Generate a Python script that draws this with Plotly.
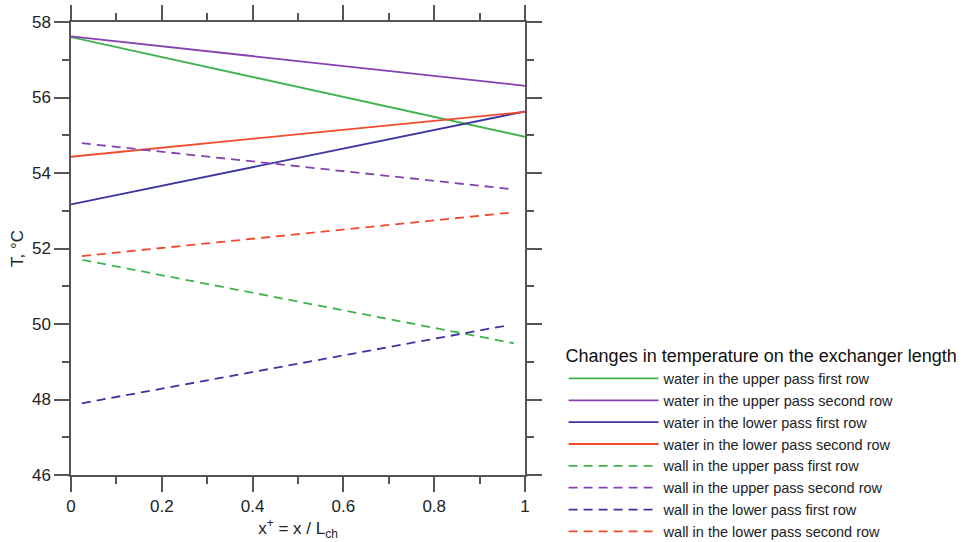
import plotly.graph_objects as go

# Data
names = [
    "water in the upper pass first row",
    "water in the upper pass second row",
    "water in the lower pass first row",
    "water in the lower pass second row",
    "wall in the upper pass first row",
    "wall in the upper pass second row",
    "wall in the lower pass first row",
    "wall in the lower pass second row",
]
colors = ["#3fb44e", "#8640b0", "#3b35a0", "#f24a2e",
          "#3fb44e", "#8640b0", "#3b35a0", "#f24a2e"]
dashes = ["solid"] * 4 + ["9px,6px"] * 4

x_water = [0.0, 1.0]
x_wall_upper1 = [0.025, 0.975]
x_wall_upper2 = [0.024, 0.965]
x_wall_lower1 = [0.024, 0.955]
x_wall_lower2 = [0.024, 0.968]

y_water_upper1 = [57.60, 54.96]
y_water_upper2 = [57.62, 56.31]
y_water_lower1 = [53.17, 55.63]
y_water_lower2 = [54.43, 55.62]
y_wall_upper1 = [51.70, 49.49]
y_wall_upper2 = [54.79, 53.58]
y_wall_lower1 = [47.90, 49.95]
y_wall_lower2 = [51.80, 52.95]

xs = [x_water, x_water, x_water, x_water,
      x_wall_upper1, x_wall_upper2, x_wall_lower1, x_wall_lower2]
ys = [y_water_upper1, y_water_upper2, y_water_lower1, y_water_lower2,
      y_wall_upper1, y_wall_upper2, y_wall_lower1, y_wall_lower2]

x_ticks = [0, 0.2, 0.4, 0.6, 0.8, 1]
x_ticklabels = ["0", "0.2", "0.4", "0.6", "0.8", "1"]
y_ticks = [46, 48, 50, 52, 54, 56, 58]

FONT = "Liberation Sans, Arial, sans-serif"

fig = go.Figure()
for n, c, d, x, y in zip(names, colors, dashes, xs, ys):
    fig.add_trace(go.Scatter(x=x, y=y, mode="lines", name=n,
                             line=dict(color=c, width=1.8, dash=d)))

axis_common = dict(
    showline=True, linecolor="#555555", linewidth=1.5, mirror="ticks",
    ticks="outside", ticklen=15, tickwidth=1.5, tickcolor="#555555",
    showgrid=False, zeroline=False, automargin=False,
    tickfont=dict(family=FONT, size=17, color="#222222"),
)

fig.update_xaxes(
    range=[0, 1], tickvals=x_ticks, ticktext=x_ticklabels,
    minor=dict(ticks="outside", ticklen=7, tickwidth=1.5, tickcolor="#555555", dtick=0.1),
    title=dict(text="x<sup>+</sup> = x / L<sub>ch</sub>", standoff=6,
               font=dict(family=FONT, size=17, color="#222222")),
    **axis_common,
)
fig.update_yaxes(
    range=[46, 58], tickvals=y_ticks,
    minor=dict(ticks="outside", ticklen=7, tickwidth=1.5, tickcolor="#555555", dtick=1),
    title=dict(text="T, °C", standoff=4,
               font=dict(family=FONT, size=17, color="#222222")),
    **axis_common,
)

fig.update_layout(
    width=964, height=542,
    margin=dict(l=71, r=439, t=22, b=67, autoexpand=False),
    paper_bgcolor="white", plot_bgcolor="white",
    legend=dict(
        title=dict(text="Changes in temperature on the exchanger length",
                   font=dict(family=FONT, size=18, color="#111111")),
        font=dict(family=FONT, size=14.5, color="#222222"),
        x=1.085, xanchor="left", y=0.30, yanchor="top",
        itemwidth=90, tracegroupgap=0,
        bgcolor="rgba(0,0,0,0)",
    ),
)

fig.write_html("out.html")
